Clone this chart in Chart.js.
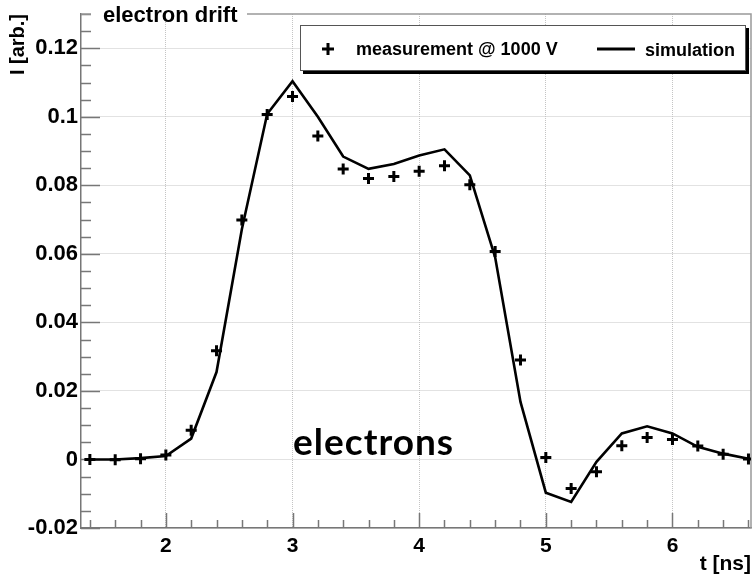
<!DOCTYPE html>
<html>
<head>
<meta charset="utf-8">
<title>electron drift</title>
<script src="https://cdn.jsdelivr.net/npm/chart.js@4/dist/chart.umd.min.js"></script>
<style>
  html, body { margin: 0; padding: 0; background: #fff; }
  #wrap { width: 752px; height: 577px; }
</style>
</head>
<body>
<div id="wrap"><canvas id="driftChart" width="752" height="577"></canvas></div>
<script>
// time axis (ns)
const tValues = [1.4, 1.6, 1.8, 2.0, 2.2, 2.4, 2.6, 2.8, 3.0, 3.2, 3.4, 3.6, 3.8, 4.0,
                 4.2, 4.4, 4.6, 4.8, 5.0, 5.2, 5.4, 5.6, 5.8, 6.0, 6.2, 6.4, 6.6];

const measurement = [0.0000, -0.0001, 0.0002, 0.0013, 0.0085, 0.0317, 0.0699, 0.1007, 0.1059,
                     0.0944, 0.0848, 0.0820, 0.0826, 0.0841, 0.0857, 0.0802, 0.0607, 0.0290,
                     0.0006, -0.0085, -0.0036, 0.0040, 0.0064, 0.0058, 0.0039, 0.0015, 0.0001];

const simulation = [0.0000, 0.0000, 0.0004, 0.0010, 0.0061, 0.0255, 0.0672, 0.1008, 0.1104,
                    0.1000, 0.0884, 0.0848, 0.0862, 0.0887, 0.0905, 0.0829, 0.0590, 0.0168,
                    -0.0097, -0.0124, -0.0007, 0.0076, 0.0097, 0.0076, 0.0037, 0.0017, 0.0002];

const xMajorValues = [2, 3, 4, 5, 6];
const xTickLabels = ['2', '3', '4', '5', '6'];
const yMajorValues = [-0.02, 0, 0.02, 0.04, 0.06, 0.08, 0.1, 0.12];
const yTickLabels = ['-0.02', '0', '0.02', '0.04', '0.06', '0.08', '0.1', '0.12'];

const xMin = 1.33, xMax = 6.62, xMinorStep = 0.2;
const yMin = -0.02, yMax = 0.13, yMinorStep = 0.005;

const ROOT_FONT = '"Liberation Sans", Arial, sans-serif';

function isMajor(value, majors) {
    return majors.some(m => Math.abs(m - value) < 1e-9);
}

function minorTicks(min, max, step) {
    const out = [];
    for (let i = Math.ceil(min / step - 1e-9); i * step <= max + 1e-9; i++) {
        out.push({ value: Math.round(i * step * 1e6) / 1e6 });
    }
    return out;
}

// ROOT-like decorations: inner ticks, frame, title, legend box, text label
const rootDecor = {
    id: 'rootDecor',
    beforeDatasetsDraw(chart) {
        const ctx = chart.ctx;
        const area = chart.chartArea;
        const xs = chart.scales.x, ys = chart.scales.y;
        ctx.save();
        ctx.strokeStyle = '#777';
        ctx.lineWidth = 1.5;
        ys.ticks.forEach(t => {
            const py = Math.round(ys.getPixelForValue(t.value)) + 0.5;
            const len = isMajor(t.value, yMajorValues) ? 19 : 10;
            ctx.beginPath();
            ctx.moveTo(area.left, py);
            ctx.lineTo(area.left + len, py);
            ctx.stroke();
        });
        xs.ticks.forEach(t => {
            const px = Math.round(xs.getPixelForValue(t.value)) + 0.5;
            const len = isMajor(t.value, xMajorValues) ? 15 : 8;
            ctx.beginPath();
            ctx.moveTo(px, area.bottom);
            ctx.lineTo(px, area.bottom - len);
            ctx.stroke();
        });
        // top and right frame
        ctx.strokeStyle = '#999';
        ctx.lineWidth = 1.5;
        ctx.beginPath();
        ctx.moveTo(area.left, area.top);
        ctx.lineTo(area.right, area.top);
        ctx.lineTo(area.right, area.bottom);
        ctx.stroke();
        ctx.restore();
    },
    afterDraw(chart) {
        const ctx = chart.ctx;
        const area = chart.chartArea;
        const xs = chart.scales.x, ys = chart.scales.y;
        ctx.save();

        // title over the top frame line
        ctx.fillStyle = '#fff';
        ctx.fillRect(91, area.top - 4, 156, 8);
        ctx.fillStyle = '#000';
        ctx.font = 'bold 22px ' + ROOT_FONT;
        ctx.textBaseline = 'alphabetic';
        ctx.textAlign = 'left';
        ctx.fillText('electron drift', 103, 22);

        // legend box with shadow
        const lx = 300, ly = 25, lw = 446, lh = 46;
        ctx.fillStyle = '#000';
        ctx.fillRect(lx + 3, ly + 3, lw, lh);
        ctx.fillStyle = '#fff';
        ctx.fillRect(lx, ly, lw, lh);
        ctx.strokeStyle = '#555';
        ctx.lineWidth = 1;
        ctx.strokeRect(lx + 0.5, ly + 0.5, lw - 1, lh - 1);

        const ds = chart.data.datasets;
        ctx.strokeStyle = '#000';
        ctx.lineWidth = 3;
        ctx.beginPath();
        ctx.moveTo(322, 49); ctx.lineTo(334, 49);
        ctx.moveTo(328, 43); ctx.lineTo(328, 55);
        ctx.stroke();
        ctx.beginPath();
        ctx.moveTo(597, 49); ctx.lineTo(635, 49);
        ctx.stroke();
        ctx.fillStyle = '#000';
        ctx.font = 'bold 18px ' + ROOT_FONT;
        ctx.fillText(ds[0].label, 356, 55);
        ctx.fillText(ds[1].label, 645, 56);

        // annotation
        ctx.font = 'bold 37px Lato, "Open Sans", sans-serif';
        ctx.letterSpacing = '1px';
        ctx.textAlign = 'center';
        ctx.fillText('electrons', xs.getPixelForValue(3.64), ys.getPixelForValue(0.0012));
        ctx.restore();
    }
};

const ctx = document.getElementById('driftChart').getContext('2d');

new Chart(ctx, {
    type: 'scatter',
    data: {
        datasets: [{
            label: 'measurement @ 1000 V',
            data: tValues.map((t, i) => ({ x: t, y: measurement[i] })),
            showLine: false,
            pointStyle: 'cross',
            pointRadius: 5.5,
            pointBorderWidth: 3,
            pointBorderColor: '#000',
            pointBackgroundColor: '#000',
            borderColor: '#000'
        }, {
            label: 'simulation',
            data: tValues.map((t, i) => ({ x: t, y: simulation[i] })),
            showLine: true,
            borderColor: '#000',
            borderWidth: 2.6,
            pointRadius: 0,
            tension: 0
        }]
    },
    options: {
        responsive: false,
        animation: false,
        devicePixelRatio: 1,
        layout: { autoPadding: false, padding: { top: 14, right: 1, left: 0, bottom: 0 } },
        plugins: {
            legend: { display: false },
            tooltip: { enabled: false }
        },
        scales: {
            x: {
                type: 'linear',
                min: xMin,
                max: xMax,
                afterBuildTicks: s => { s.ticks = minorTicks(xMin, xMax, xMinorStep); },
                afterFit: s => { s.height = 49; s.paddingLeft = 0; s.paddingRight = 0; },
                ticks: {
                    autoSkip: false,
                    maxRotation: 0,
                    padding: 6,
                    color: '#000',
                    font: { family: ROOT_FONT, size: 21, weight: 'bold' },
                    callback: value => {
                        const i = xMajorValues.findIndex(m => Math.abs(m - value) < 1e-9);
                        return i >= 0 ? xTickLabels[i] : '';
                    }
                },
                grid: {
                    drawTicks: false,
                    lineWidth: 1,
                    color: c => (c.tick && isMajor(c.tick.value, xMajorValues)) ? '#c4c4c4' : 'rgba(0,0,0,0)'
                },
                border: { display: true, color: '#777', width: 1.5, dash: [1, 1] },
                title: {
                    display: true,
                    text: 't [ns]',
                    align: 'end',
                    color: '#000',
                    padding: { top: 0, bottom: 0 },
                    font: { family: ROOT_FONT, size: 21, weight: 'bold' }
                }
            },
            y: {
                type: 'linear',
                min: yMin,
                max: yMax,
                afterBuildTicks: s => { s.ticks = minorTicks(yMin, yMax, yMinorStep); },
                afterFit: s => { s.width = 81; s.paddingTop = 0; s.paddingBottom = 0; },
                ticks: {
                    autoSkip: false,
                    padding: 3,
                    color: '#000',
                    font: { family: ROOT_FONT, size: 22, weight: 'bold' },
                    callback: value => {
                        const i = yMajorValues.findIndex(m => Math.abs(m - value) < 1e-9);
                        return i >= 0 ? yTickLabels[i] : '';
                    }
                },
                grid: {
                    drawTicks: false,
                    lineWidth: 1,
                    color: c => (c.tick && isMajor(c.tick.value, yMajorValues)) ? '#c4c4c4' : 'rgba(0,0,0,0)'
                },
                border: { display: true, color: '#777', width: 1.5, dash: [1, 1] },
                title: {
                    display: true,
                    text: 'I [arb.]',
                    align: 'end',
                    color: '#000',
                    padding: { top: 6, bottom: 0 },
                    font: { family: ROOT_FONT, size: 20, weight: 'bold' }
                }
            }
        }
    },
    plugins: [rootDecor]
});
</script>
</body>
</html>
